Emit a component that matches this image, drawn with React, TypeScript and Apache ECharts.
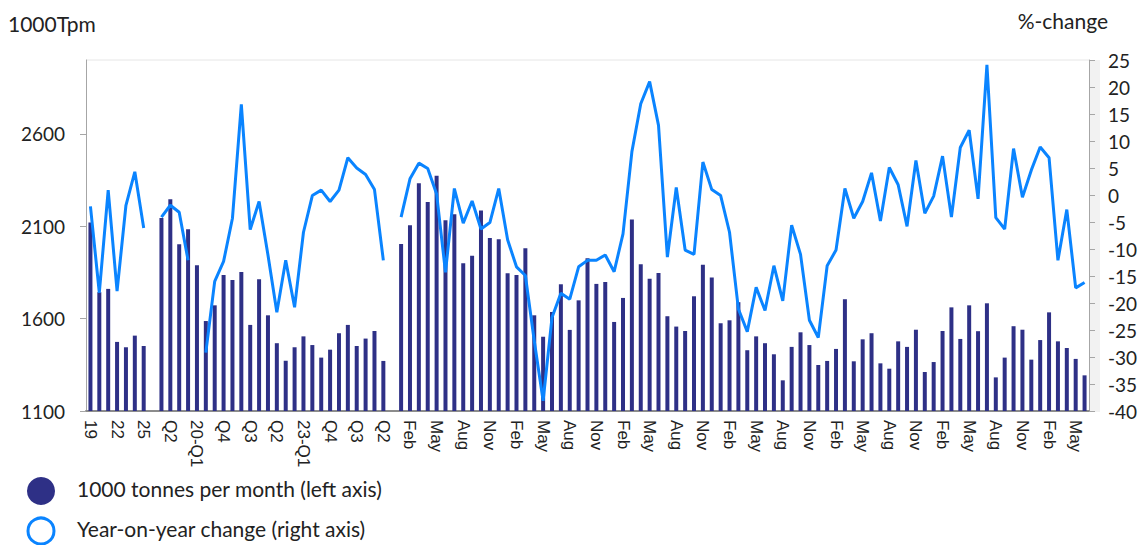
import { useEffect, useRef } from "react";
import * as echarts from "echarts";

// Annual averages 2019..2025 (1000 tonnes per month)
const annualLabels = ["19", "20", "21", "22", "23", "24", "25"];
const annualVolume = [2120, 1743, 1761, 1474, 1445, 1508, 1452];
const annualYoy = [-2.1, -18.1, 0.9, -17.8, -1.9, 4.3, -6.1];

// Quarterly 2019-Q1..2025-Q2
const quarterLabels = [
  "19-Q1", "Q2", "Q3", "Q4",
  "20-Q1", "Q2", "Q3", "Q4",
  "21-Q1", "Q2", "Q3", "Q4",
  "22-Q1", "Q2", "Q3", "Q4",
  "23-Q1", "Q2", "Q3", "Q4",
  "24-Q1", "Q2", "Q3", "Q4",
  "25-Q1", "Q2",
];
const quarterlyVolume = [
  2145, 2246, 2003, 2084, 1889, 1587, 1672, 1836, 1809, 1853, 1566, 1813, 1618,
  1467, 1372, 1445, 1504, 1457, 1389, 1432, 1521, 1566, 1452, 1492, 1533, 1371,
];
const quarterlyYoy = [
  -4.1, -1.9, -3.2, -12.1, null, -29.2, -16.0, -12.3, -4.3, 16.8, -6.4, -1.2, -11.1,
  -21.7, -12.1, -20.8, -6.9, -0.1, 0.9, -1.2, 0.9, 6.9, 5.0, 3.8, 1.0, -12.1,
];

// Monthly Jan 2019..Jun 2025
const monthLabels = [
  "19-Jan", "Feb", "Mar", "Apr", "May", "Jun", "Jul", "Aug", "Sep", "Oct", "Nov", "Dec",
  "20-Jan", "Feb", "Mar", "Apr", "May", "Jun", "Jul", "Aug", "Sep", "Oct", "Nov", "Dec",
  "21-Jan", "Feb", "Mar", "Apr", "May", "Jun", "Jul", "Aug", "Sep", "Oct", "Nov", "Dec",
  "22-Jan", "Feb", "Mar", "Apr", "May", "Jun", "Jul", "Aug", "Sep", "Oct", "Nov", "Dec",
  "23-Jan", "Feb", "Mar", "Apr", "May", "Jun", "Jul", "Aug", "Sep", "Oct", "Nov", "Dec",
  "24-Jan", "Feb", "Mar", "Apr", "May", "Jun", "Jul", "Aug", "Sep", "Oct", "Nov", "Dec",
  "25-Jan", "Feb", "Mar", "Apr", "May", "Jun",
];
const monthlyVolume = [
  2004, 2106, 2333, 2232, 2373, 2133, 2165, 1900, 1941, 2185, 2037, 2030,
  1846, 1836, 1981, 1618, 1502, 1636, 1786, 1539, 1699, 1927, 1788, 1798,
  1582, 1712, 2136, 1894, 1816, 1847, 1613, 1557, 1533, 1721, 1891, 1822,
  1575, 1591, 1689, 1429, 1504, 1467, 1407, 1266, 1447, 1526, 1457, 1349,
  1371, 1436, 1705, 1369, 1488, 1521, 1358, 1329, 1477, 1447, 1540, 1311,
  1365, 1533, 1661, 1490, 1672, 1532, 1683, 1282, 1389, 1559, 1540, 1378,
  1484, 1634, 1477, 1441, 1382, 1293,
];
const monthlyYoy = [
  -4.1, 3.0, 5.9, 4.9, 0.2, -14.3, 1.2, -5.2, -1.1, -6.3, -5.1, 1.2,
  -8.3, -13.3, -14.9, -27.0, -38.1, -22.7, -18.2, -19.3, -13.3, -12.1, -12.1, -11.1,
  -14.2, -7.2, 8.0, 16.9, 21.0, 12.9, -11.5, 1.4, -10.2, -11.0, 6.1, 1.0,
  -0.1, -6.9, -21.1, -25.3, -17.1, -21.4, -13.1, -19.6, -5.6, -11.0, -23.2, -26.4,
  -13.1, -10.2, 1.2, -4.3, -1.2, 4.1, -4.8, 5.1, 1.9, -5.8, 6.4, -3.4,
  -0.2, 7.2, -4.1, 8.8, 12.0, -0.7, 24.1, -4.2, -6.3, 8.6, -0.4, 4.6,
  8.9, 6.9, -12.1, -2.7, -17.2, -16.2,
];

const leftTicks = [1100, 1600, 2100, 2600];

const categories = [...annualLabels, "", ...quarterLabels, "", ...monthLabels];
const volumeData = [...annualVolume, null, ...quarterlyVolume, null, ...monthlyVolume];
const yoyData = [...annualYoy, null, ...quarterlyYoy, null, ...monthlyYoy];

const BAR = "#2E3086";
const LINE = "#0A84FF";
const TEXT = "#222222";
const FONT = "Lato";

export default function App() {
  const ref = useRef<HTMLDivElement>(null);
  useEffect(() => {
    const chart = echarts.init(ref.current!, null, { renderer: "svg" });
    chart.setOption({
      animation: false,
      backgroundColor: "#ffffff",
      grid: { left: 86, right: 58, top: 60, bottom: 134, containLabel: false },
      xAxis: {
        type: "category",
        data: categories,
        boundaryGap: true,
        axisLine: { onZero: false, lineStyle: { color: "#8c8c8c", width: 2 } },
        axisTick: { show: false },
        axisLabel: {
          interval: 2,
          rotate: -90,
          margin: 9,
          fontSize: 17,
          fontFamily: "Liberation Sans",
          color: TEXT,
          formatter: (v: string) => v.replace(/^\d\d-(Jan|Apr|Jul|Oct)$/, "$1"),
        },
      },
      yAxis: [
        {
          type: "value",
          min: 1100,
          max: 3000,
          position: "left",
          axisLine: { show: true, onZero: false, lineStyle: { color: "#a6a6a6" } },
          axisTick: { show: true, length: 6, customValues: leftTicks, lineStyle: { color: "#a6a6a6" } },
          axisLabel: {
            customValues: leftTicks,
            margin: 21,
            fontSize: 19,
            fontFamily: FONT,
            color: TEXT,
            formatter: (v: number) => String(v),
          },
          splitLine: { show: false },
        },
        {
          type: "value",
          min: -40,
          max: 25,
          interval: 5,
          position: "right",
          axisLine: { show: true, onZero: false, lineStyle: { color: "#a6a6a6" } },
          axisTick: { show: true, length: 6, lineStyle: { color: "#a6a6a6" } },
          axisLabel: { margin: 19, fontSize: 19, fontFamily: FONT, color: TEXT },
          splitLine: { show: false },
        },
      ],
      series: [
        {
          name: "1000 tonnes per month (left axis)",
          type: "bar",
          yAxisIndex: 0,
          data: volumeData,
          barWidth: 4,
          itemStyle: { color: BAR },
        },
        {
          name: "Year-on-year change (right axis)",
          type: "line",
          yAxisIndex: 1,
          data: yoyData,
          showSymbol: false,
          symbol: "none",
          connectNulls: false,
          lineStyle: { color: LINE, width: 3 },
          itemStyle: { color: LINE },
        },
      ],
      graphic: [
        { type: "rect", z: -10, shape: { x: 1089, y: 60, width: 11, height: 352 }, style: { fill: "#f2f2f2" } },
        { type: "line", z: -5, shape: { x1: 86, y1: 60, x2: 1089, y2: 60 }, style: { stroke: "#e6e6e6", lineWidth: 1 } },
        {
          type: "text", left: 8, top: 13,
          style: { text: "1000Tpm", fontSize: 21, fontFamily: FONT, fill: TEXT },
        },
        {
          type: "text", right: 39, top: 10,
          style: { text: "%-change", fontSize: 21, fontFamily: FONT, fill: TEXT },
        },
        { type: "circle", shape: { cx: 41, cy: 491, r: 14 }, style: { fill: BAR } },
        { type: "circle", shape: { cx: 41, cy: 531, r: 13 }, style: { fill: "#ffffff", stroke: LINE, lineWidth: 3 } },
        {
          type: "text", left: 77, top: 478,
          style: { text: "1000 tonnes per month (left axis)", fontSize: 21, fontFamily: FONT, fill: TEXT },
        },
        {
          type: "text", left: 77, top: 518,
          style: { text: "Year-on-year change (right axis)", fontSize: 21, fontFamily: FONT, fill: TEXT },
        },
      ],
    });
    return () => chart.dispose();
  }, []);
  return (
    <div
      ref={ref}
      style={{ position: "fixed", left: 0, top: 0, width: 1147, height: 545, background: "#fff" }}
    />
  );
}
